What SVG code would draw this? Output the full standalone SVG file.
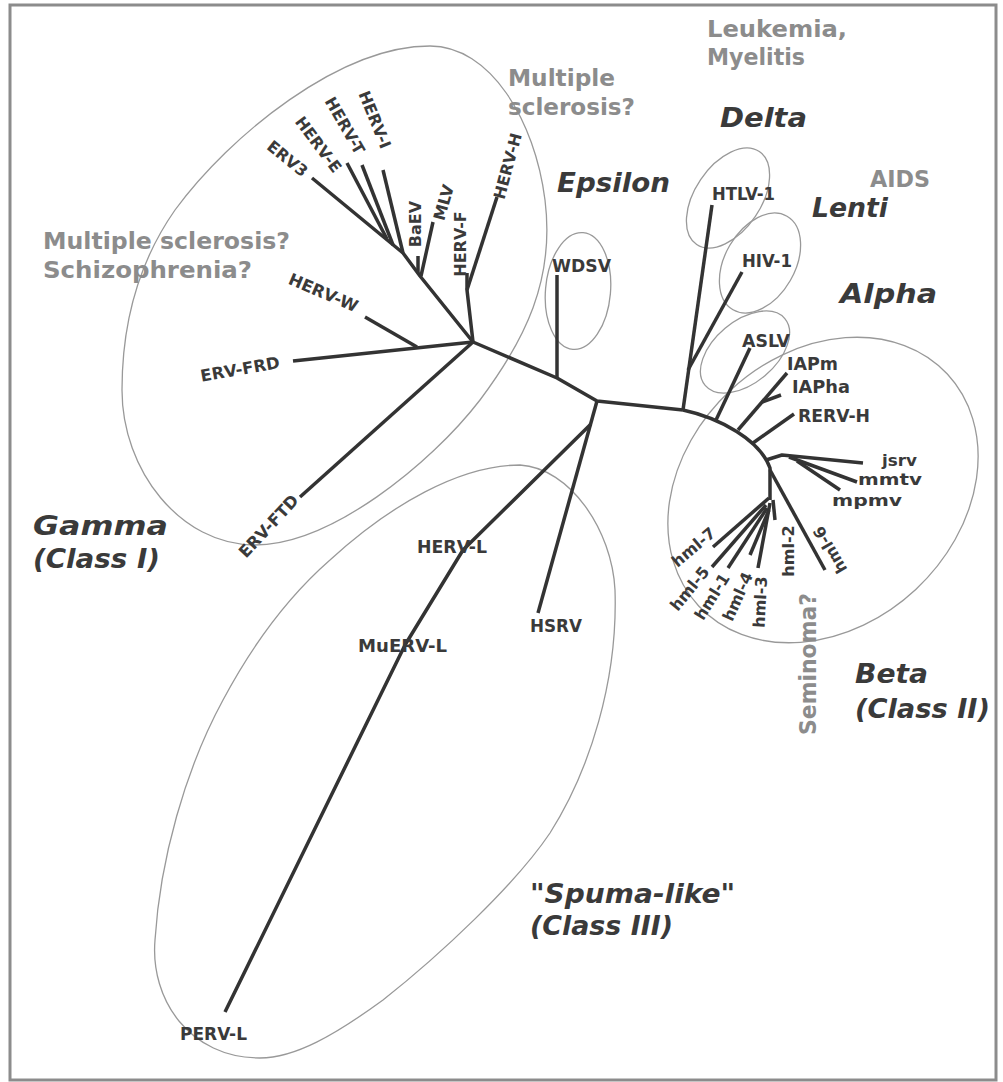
<svg xmlns="http://www.w3.org/2000/svg" width="1003" height="1082" viewBox="0 0 1003 1082">
<style>
.br{fill:none;stroke:#333;stroke-width:3.5;stroke-linejoin:round;stroke-linecap:butt}
.cl{fill:none;stroke:#999;stroke-width:1.3}
.tx{font-family:"DejaVu Sans",sans-serif;font-weight:bold;font-size:18px;fill:#3a3a3a}
.ts{font-family:"DejaVu Sans",sans-serif;font-weight:bold;font-size:16px;fill:#3a3a3a}
.sm{font-family:"DejaVu Sans",sans-serif;font-weight:bold;font-size:16px;fill:#3a3a3a}
.md{font-family:"DejaVu Sans",sans-serif;font-weight:bold;font-size:16.5px;fill:#3a3a3a}
.cd{font-family:"DejaVu Sans",sans-serif;font-weight:bold;font-style:italic;font-size:27px;fill:#3a3a3a}
.gy{font-family:"DejaVu Sans",sans-serif;font-weight:bold;font-size:23px;fill:#8c8c8c}
</style>
<rect x="0" y="0" width="1003" height="1082" fill="#fff"/>
<rect x="10" y="5" width="986" height="1075" fill="none" stroke="#8c8c8c" stroke-width="3"/>

<g id="clade-outlines">
<path id="gamma-outline" class="cl" d="M430,46 C490,46 535,120 545,200 C555,280 525,340 480,400 C430,465 330,545 255,545 C180,545 122,470 122,390 C122,320 140,260 175,210 C230,135 340,46 430,46 Z"/>
<path id="spuma-outline" class="cl" d="M520,465 C570,468 612,530 615,590 C618,680 590,770 550,833 C515,885 440,955 383,1000 C335,1035 295,1058 260,1058 C190,1058 150,1000 155,940 C160,860 185,770 223,700 C255,640 290,595 330,560 C390,505 460,465 520,465 Z"/>
<ellipse id="beta-outline" class="cl" cx="823" cy="490" rx="170" ry="136" transform="rotate(-43 823 490)"/>
<ellipse id="epsilon-outline" class="cl" cx="578" cy="291" rx="32.5" ry="58.5" transform="rotate(5 578 291)"/>
<ellipse id="delta-outline" class="cl" cx="728" cy="198" rx="33" ry="56" transform="rotate(34 728 198)"/>
<ellipse id="lenti-outline" class="cl" cx="760" cy="263" rx="35" ry="54" transform="rotate(30 760 263)"/>
<ellipse id="alpha-outline" class="cl" cx="745" cy="352" rx="52" ry="31" transform="rotate(-40 745 352)"/>
</g>

<g id="connectors">
<path class="br" d="M473,342 L557,378 L597,401 L683,410"/>
<path class="br" d="M557,378 L557,275"/>
<path class="br" d="M683,410 L712,205"/>
<path class="br" d="M688,370 L742,272"/>
<path class="br" d="M683,410 C720,418 760,440 770,468 L770,500"/>
<path class="br" d="M716,420 L750,348"/>
<path class="br" d="M738,430 L787,373"/>
<path class="br" d="M762,402 L781,395"/>
<path class="br" d="M753,443 L794,414"/>
<path class="br" d="M766,460 L782,455 L863,463"/>
<path class="br" d="M789,457 L857,482"/>
<path class="br" d="M797,461 L840,490"/>
<path class="br" d="M770,470 L825,570"/>
<path class="br" d="M773,500 L775,520"/>
<path class="br" d="M770,503 L758,568"/>
<path class="br" d="M769,510 L750,555"/>
<path class="br" d="M767,508 L728,568"/>
<path class="br" d="M766,505 L712,567"/>
<path class="br" d="M769,498 L713,547"/>
<path class="br" d="M597,401 L538,613"/>
<path class="br" d="M591,424 L463,550 L405,645 L225,1012"/>
<path class="br" d="M473,342 L420,276 L403,253 L312,178"/>
<path class="br" d="M387,239 L347,163"/>
<path class="br" d="M393,245 L362,165"/>
<path class="br" d="M403,253 L383,170"/>
<path class="br" d="M418,273 L418,256"/>
<path class="br" d="M421,276 L433,222"/>
<path class="br" d="M473,342 L467,290 L467,273"/>
<path class="br" d="M467,290 L497,197"/>
<path class="br" d="M473,342 L293,361"/>
<path class="br" d="M417,347 L365,317"/>
<path class="br" d="M473,342 L300,497"/>
</g>

<g id="node-WDSV"><text class="tx" x="552" y="272" textLength="59" lengthAdjust="spacingAndGlyphs">WDSV</text></g>
<g id="node-HTLV-1"><text class="tx" x="712" y="200" textLength="63" lengthAdjust="spacingAndGlyphs">HTLV-1</text></g>
<g id="node-HIV-1"><text class="tx" x="742" y="267" textLength="50" lengthAdjust="spacingAndGlyphs">HIV-1</text></g>
<g id="node-ASLV"><text class="tx" x="742" y="347" textLength="48" lengthAdjust="spacingAndGlyphs">ASLV</text></g>
<g id="node-IAPm"><text class="tx" x="787" y="370" textLength="51" lengthAdjust="spacingAndGlyphs">IAPm</text></g>
<g id="node-IAPha"><text class="tx" x="792" y="393" textLength="58" lengthAdjust="spacingAndGlyphs">IAPha</text></g>
<g id="node-RERV-H"><text class="tx" x="798" y="422" textLength="72" lengthAdjust="spacingAndGlyphs">RERV-H</text></g>
<g id="node-jsrv"><text class="ts" x="882" y="466" textLength="35" lengthAdjust="spacingAndGlyphs">jsrv</text></g>
<g id="node-mmtv"><text class="ts" x="858" y="485" textLength="64" lengthAdjust="spacingAndGlyphs">mmtv</text></g>
<g id="node-mpmv"><text class="ts" x="832" y="506" textLength="70" lengthAdjust="spacingAndGlyphs">mpmv</text></g>
<g id="node-HERV-L"><text class="tx" x="417" y="553" textLength="70" lengthAdjust="spacingAndGlyphs">HERV-L</text></g>
<g id="node-MuERV-L"><text class="tx" x="358" y="652" textLength="89" lengthAdjust="spacingAndGlyphs">MuERV-L</text></g>
<g id="node-HSRV"><text class="tx" x="530" y="632" textLength="52" lengthAdjust="spacingAndGlyphs">HSRV</text></g>
<g id="node-PERV-L"><text class="tx" x="180" y="1040" textLength="67" lengthAdjust="spacingAndGlyphs">PERV-L</text></g>

<g id="node-ERV3"><text class="sm" text-anchor="middle" dy="0.36em" transform="translate(287.5 158.5) rotate(39)">ERV3</text></g>
<g id="node-HERV-E"><text class="sm" text-anchor="middle" dy="0.36em" transform="translate(318.5 144.5) rotate(53)">HERV-E</text></g>
<g id="node-HERV-T"><text class="sm" text-anchor="middle" dy="0.36em" transform="translate(345 125.5) rotate(60)">HERV-T</text></g>
<g id="node-HERV-I"><text class="sm" text-anchor="middle" dy="0.36em" transform="translate(375 119.5) rotate(68)">HERV-I</text></g>
<g id="node-BaEV"><text class="sm" text-anchor="middle" dy="0.36em" transform="translate(415.5 224) rotate(-90)">BaEV</text></g>
<g id="node-MLV"><text class="sm" text-anchor="middle" dy="0.36em" transform="translate(443.5 202.5) rotate(-74)">MLV</text></g>
<g id="node-HERV-F"><text class="sm" text-anchor="middle" dy="0.36em" transform="translate(460 244) rotate(-90)">HERV-F</text></g>
<g id="node-HERV-H"><text class="sm" text-anchor="middle" dy="0.36em" transform="translate(507.5 166) rotate(-75)">HERV-H</text></g>
<g id="node-HERV-W"><text class="md" text-anchor="middle" dy="0.36em" transform="translate(323.5 292.5) rotate(23)">HERV-W</text></g>
<g id="node-ERV-FRD"><text class="md" text-anchor="middle" dy="0.36em" transform="translate(240 369) rotate(-10)">ERV-FRD</text></g>
<g id="node-ERV-FTD"><text class="md" text-anchor="middle" dy="0.36em" transform="translate(268.5 526) rotate(-47)">ERV-FTD</text></g>

<g id="node-hml-7"><text class="sm" text-anchor="middle" dy="0.36em" transform="translate(693.5 547) rotate(-40)">hml-7</text></g>
<g id="node-hml-5"><text class="sm" text-anchor="middle" dy="0.36em" transform="translate(689.5 588.5) rotate(-51)">hml-5</text></g>
<g id="node-hml-1"><text class="sm" text-anchor="middle" dy="0.36em" transform="translate(712 596.5) rotate(-58)">hml-1</text></g>
<g id="node-hml-4"><text class="sm" text-anchor="middle" dy="0.36em" transform="translate(737.5 596.5) rotate(-66)">hml-4</text></g>
<g id="node-hml-3"><text class="sm" text-anchor="middle" dy="0.36em" transform="translate(760 602) rotate(-87)">hml-3</text></g>
<g id="node-hml-2"><text class="sm" text-anchor="middle" dy="0.36em" transform="translate(788 551) rotate(-90)">hml-2</text></g>
<g id="node-hml-6"><text class="sm" text-anchor="middle" dy="0.36em" transform="translate(830 550) rotate(-120)">hml-6</text></g>

<g id="clade-labels">
<text class="cd" x="720" y="127" textLength="87" lengthAdjust="spacingAndGlyphs">Delta</text>
<text class="cd" x="557" y="192" textLength="113" lengthAdjust="spacingAndGlyphs">Epsilon</text>
<text class="cd" x="812" y="217" textLength="76" lengthAdjust="spacingAndGlyphs">Lenti</text>
<text class="cd" x="840" y="303" textLength="97" lengthAdjust="spacingAndGlyphs">Alpha</text>
<text class="cd" x="33" y="535" textLength="135" lengthAdjust="spacingAndGlyphs">Gamma</text>
<text class="cd" x="33" y="568" textLength="127" lengthAdjust="spacingAndGlyphs">(Class I)</text>
<text class="cd" x="855" y="683" textLength="73" lengthAdjust="spacingAndGlyphs">Beta</text>
<text class="cd" x="855" y="718" textLength="135" lengthAdjust="spacingAndGlyphs">(Class II)</text>
<text class="cd" x="530" y="903" textLength="205" lengthAdjust="spacingAndGlyphs">"Spuma-like"</text>
<text class="cd" x="530" y="935" textLength="143" lengthAdjust="spacingAndGlyphs">(Class III)</text>
</g>

<g id="disease-labels">
<text class="gy" x="43" y="249" textLength="247" lengthAdjust="spacingAndGlyphs">Multiple sclerosis?</text>
<text class="gy" x="43" y="278" textLength="209" lengthAdjust="spacingAndGlyphs">Schizophrenia?</text>
<text class="gy" x="508" y="86" textLength="107" lengthAdjust="spacingAndGlyphs">Multiple</text>
<text class="gy" x="508" y="115" textLength="127" lengthAdjust="spacingAndGlyphs">sclerosis?</text>
<text class="gy" x="707" y="37" textLength="140" lengthAdjust="spacingAndGlyphs">Leukemia,</text>
<text class="gy" x="707" y="65" textLength="98" lengthAdjust="spacingAndGlyphs">Myelitis</text>
<text class="gy" x="870" y="187" textLength="60" lengthAdjust="spacingAndGlyphs">AIDS</text>
<text class="gy" transform="translate(816 735) rotate(-90)" textLength="142" lengthAdjust="spacingAndGlyphs">Seminoma?</text>
</g>
</svg>
